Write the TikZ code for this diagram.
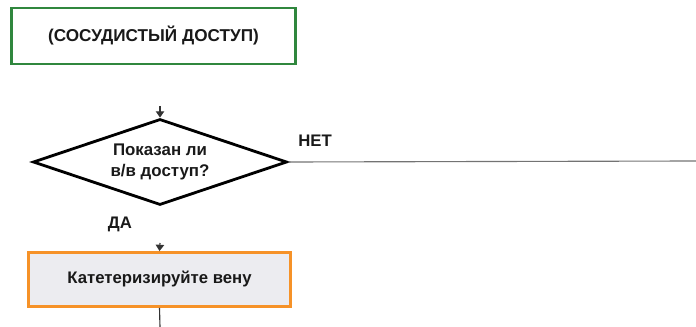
\documentclass[tikz,border=0pt]{standalone}
\usepackage{fontspec}
\setmainfont{Liberation Sans}
\usetikzlibrary{shapes.geometric,arrows.meta}

\definecolor{vasgreen}{RGB}{48,135,62}
\definecolor{vasorange}{RGB}{246,146,40}
\definecolor{vasfill}{RGB}{236,236,240}

\begin{document}
\begin{tikzpicture}[x=0.025cm,y=-0.025cm,
    every node/.style={font=\bfseries\fontsize{11.9}{15.5}\selectfont, text=black!90},
    startbox/.style={draw=vasgreen, line width=2pt, minimum width=7.1cm, minimum height=1.4cm, fill=white,
        font=\bfseries\fontsize{12.2}{15.5}\selectfont},
    actbox/.style={draw=vasorange, line width=2pt, fill=vasfill, minimum width=6.55cm, minimum height=1.35cm},
    decision/.style={diamond, aspect=2.9, draw=black, line width=2pt, inner sep=0pt, minimum width=6.35cm, minimum height=2.15cm, align=center,
        font=\bfseries\fontsize{12}{15.5}\selectfont},
    flow/.style={draw=black!80, line width=0.8pt},
    tip/.style={flow, -{Triangle[length=4.5pt,width=6pt]}}]
    \useasboundingbox (0,0) rectangle (696,327);

    \node[startbox] (start) at (153.5,36) {(СОСУДИСТЫЙ ДОСТУП)};
    \node[decision] (q1) at (160,162) {Показан ли\\в/в доступ?};
    \node[actbox] (vein) at (159.5,279.5) {Катетеризируйте вену};

    \coordinate (in1) at (160,106);
    \coordinate (in2) at (160,243);
    \coordinate (noend) at (696,161);
    \coordinate (out) at (160,327);

    \draw[tip] (in1) -- (q1.north);
    \draw[flow, draw=black!55] (q1.east) -- (noend);
    \draw[tip] (in2) -- (vein.north);
    \draw[flow] (vein.south) -- (out);

    \node (no) at (315,141) {НЕТ};
    \node (yes) at (120,224) {ДА};
\end{tikzpicture}
\end{document}
